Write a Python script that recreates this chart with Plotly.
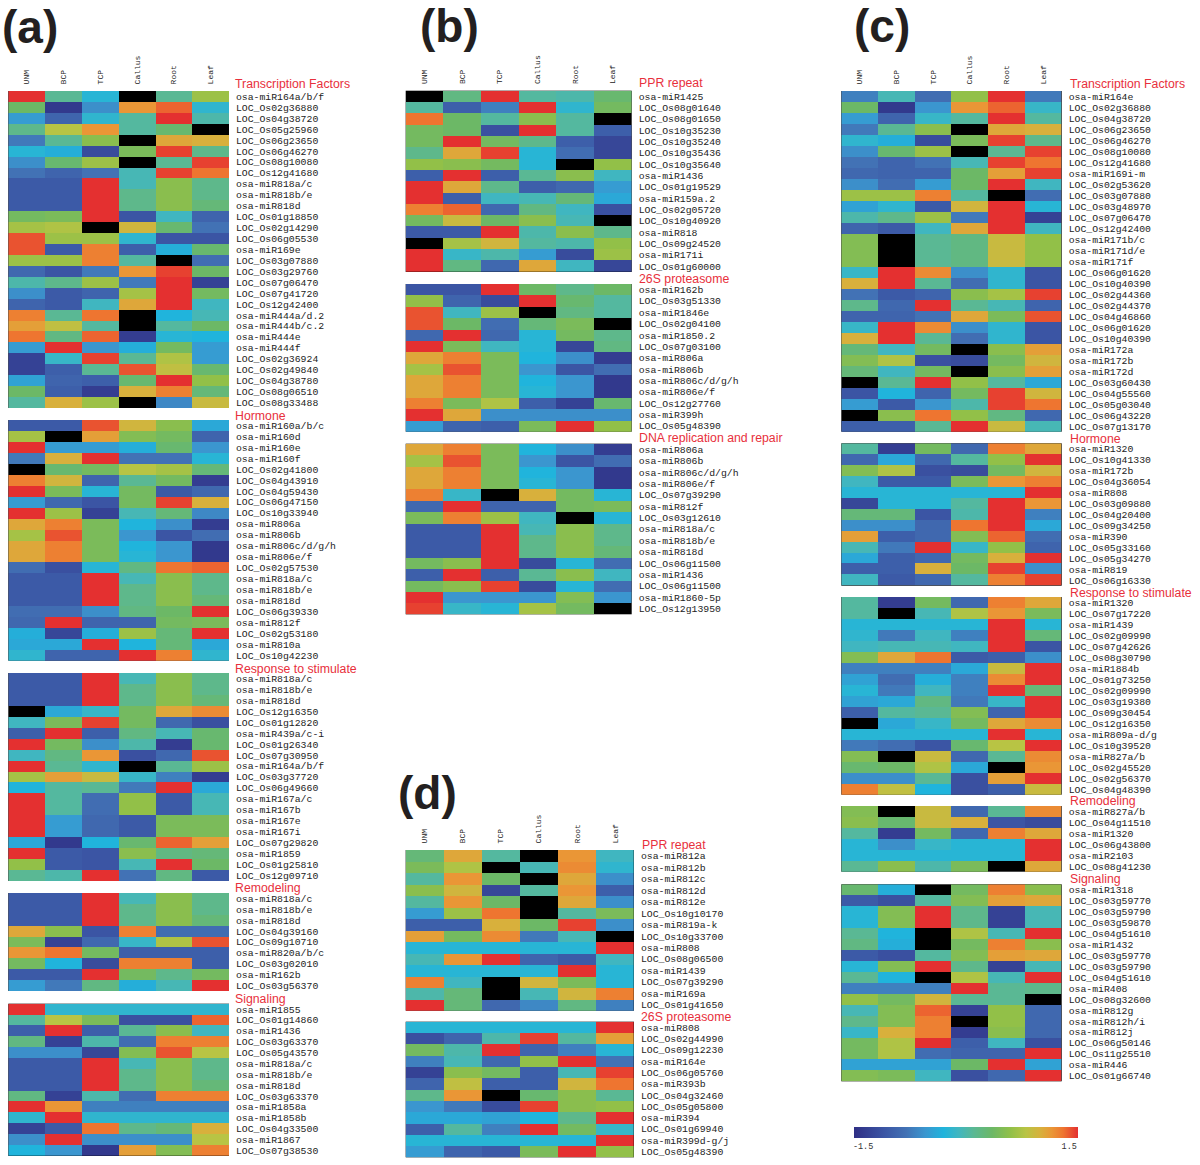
import plotly.graph_objects as go

SAMPLES = ["UNM", "BCP", "TCP", "Callus", "Root", "Leaf"]
MISSING = None

# Repeated probes in several functional groups
R818AC = [-1.05, -1.05, 1.5, -0.05, 0.55, 0.15]
R818BE = [-1.05, -1.05, 1.5, 0.15, 0.55, 0.15]
R818D = [-1.05, -1.05, 1.5, 0.15, 0.55, 0.25]
R806A = [1.05, 1.25, 0.45, -0.3, -0.6, -1.35]
R806B = [0.7, 1.4, 0.45, -0.55, -1.1, -0.85]
R806C = [1.05, 1.25, 0.45, -0.3, -0.55, -1.4]
R806E = [1.05, 1.25, 0.45, -0.25, -0.55, -1.4]
R1436 = [-1.0, 1.5, -1.0, 0.1, 0.55, -0.1]
R808 = [-0.25, -0.25, -0.25, -0.25, -0.25, 1.5]
R1320 = [0.05, -1.35, 0.4, -0.9, 1.25, 1.05]

a_tf_labels = ["osa-miR164a/b/f", "LOC_Os02g36880", "LOC_Os04g38720", "LOC_Os05g25960", "LOC_Os06g23650", "LOC_Os06g46270", "LOC_Os08g10080", "LOC_Os12g41680", "osa-miR818a/c", "osa-miR818b/e", "osa-miR818d", "LOC_Os01g18850", "LOC_Os02g14290", "LOC_Os06g05530", "osa-miR169e", "LOC_Os03g07880", "LOC_Os03g29760", "LOC_Os07g06470", "LOC_Os07g41720", "LOC_Os12g42400", "osa-miR444a/d.2", "osa-miR444b/c.2", "osa-miR444e", "osa-miR444f", "LOC_Os02g36924", "LOC_Os02g49840", "LOC_Os04g38780", "LOC_Os08g06510", "LOC_Os08g33488"]
a_tf_values = [
    [1.5, 0.1, -0.25, MISSING, 0.1, 0.65], [0.35, -1.4, -0.6, 1.15, 1.35, -0.2], [-0.5, -0.95, -0.2, 0.05, 1.5, 0.0],
    [0.15, 0.8, 1.15, 0.05, 0.3, MISSING], [-0.75, 0.1, 0.55, MISSING, 1.05, 1.0], [-0.25, -0.35, -1.2, 0.45, 1.45, 0.15],
    [-0.6, 0.3, 0.65, MISSING, 0.1, 1.45], [-0.8, -0.95, -0.8, -0.05, 1.45, 1.3], R818AC, R818BE, R818D,
    [0.4, 0.45, 1.5, -1.1, -0.1, -0.95], [0.7, 0.75, MISSING, 0.95, 0.3, -0.8], [1.4, 0.65, 0.65, -0.2, -1.1, -1.1],
    [1.4, -1.05, 1.25, -1.0, -0.35, 0.3], [0.65, 0.65, 1.25, 0.05, MISSING, -0.85], [-0.9, -1.1, -0.75, 1.15, 1.45, 0.35],
    [0.0, 0.15, 0.65, -0.75, 1.5, -1.3], [-0.6, -1.05, -0.95, 0.7, 1.5, 0.4], [-0.95, -1.05, -0.1, 1.05, 1.5, -0.1],
    [1.25, 0.1, 1.3, MISSING, -0.3, -0.05], [1.1, 0.85, 0.05, MISSING, 0.05, 0.35], [1.3, 0.2, 1.35, -1.35, -0.25, -0.3],
    [-0.5, 1.5, -0.55, -0.35, 0.4, -0.5], [-1.3, -0.15, 1.45, 0.1, 0.75, -0.5], [-1.3, -1.0, 0.1, 1.4, 0.85, 0.3],
    [-0.45, -0.95, -1.0, 0.3, 1.5, 0.6], [0.35, -1.0, -1.35, 1.0, 1.25, 0.25], [0.05, 1.0, 0.65, MISSING, -0.65, 0.9],
]

a_hormone_labels = ["osa-miR160a/b/c", "osa-miR160d", "osa-miR160e", "osa-miR160f", "LOC_Os02g41800", "LOC_Os04g43910", "LOC_Os04g59430", "LOC_Os06g47150", "LOC_Os10g33940", "osa-miR806a", "osa-miR806b", "osa-miR806c/d/g/h", "osa-miR806e/f", "LOC_Os02g57530", "osa-miR818a/c", "osa-miR818b/e", "osa-miR818d", "LOC_Os06g39330", "osa-miR812f", "LOC_Os02g53180", "osa-miR810a", "LOC_Os10g42230"]
a_hormone_values = [
    [-1.05, -1.05, 1.4, 0.95, 0.55, -0.4], [0.7, MISSING, 1.1, 0.5, 0.4, -0.95], [1.5, -0.5, -0.5, -0.35, 0.3, -0.55],
    [-0.75, 1.0, 1.5, -0.8, -0.8, -0.25], [MISSING, 0.3, 0.4, 0.8, 0.7, 0.25], [1.25, 0.95, -0.95, 0.1, 0.4, -1.35],
    [1.5, 0.45, -0.25, 0.4, -1.05, -0.9], [-0.5, -0.9, -1.1, 0.4, 1.45, 1.0], [1.5, 0.65, -1.3, -0.05, 0.25, -0.65],
    R806A, R806B, R806C, R806E, [-0.85, -1.15, -0.25, 0.2, 1.3, 1.35], R818AC, R818BE, R818D,
    [-0.85, -0.85, -0.6, 0.2, 0.35, 1.5], [-0.9, 1.5, -0.95, -0.95, 0.4, 0.45], [-0.35, -1.25, -0.35, 0.65, 0.25, 1.5],
    [-0.4, -0.4, 1.5, -0.3, 0.25, -0.4], [-0.2, -0.95, -0.95, 1.5, 1.25, -0.2],
]

a_stimulus_labels = ["osa-miR818a/c", "osa-miR818b/e", "osa-miR818d", "LOC_Os12g16350", "LOC_Os01g12820", "osa-miR439a/c-i", "LOC_Os01g26340", "LOC_Os07g30950", "osa-miR164a/b/f", "LOC_Os03g37720", "LOC_Os06g49660", "osa-miR167a/c", "osa-miR167b", "osa-miR167e", "osa-miR167i", "LOC_Os07g29820", "osa-miR1859", "LOC_Os01g25810", "LOC_Os12g09710"]
a_stimulus_values = [
    R818AC, R818BE, R818D, [MISSING, -0.4, -0.15, 0.4, 1.05, 1.2], [-0.1, 0.45, 1.45, 0.4, -0.9, -1.15],
    [-1.0, 1.5, -1.0, 0.2, -0.05, 0.3], [1.5, 0.4, -0.6, 0.0, -1.35, 0.3], [-0.1, 0.2, 1.15, -1.15, -0.9, 1.4],
    [1.5, 0.1, -0.2, MISSING, 0.1, 0.65], [0.7, 1.1, 0.9, -0.15, -0.7, -1.35], [-0.3, 0.05, 0.1, -0.75, 1.5, -0.4],
    [1.5, 0.05, -0.85, 0.6, -1.05, -0.05], [1.5, 0.05, -0.85, 0.6, -1.05, -0.05], [1.5, -0.5, -0.9, -1.05, 0.45, 0.45],
    [1.5, -0.5, -0.9, -1.05, 0.45, 0.45], [-0.4, -1.4, -0.3, 0.3, 1.35, 1.1], [1.5, -1.05, -1.1, 0.55, 0.2, 0.25],
    [0.6, -1.05, -1.1, -0.05, 1.5, 0.35], [0.1, 0.0, 1.5, -0.8, 0.2, -1.05],
]

a_remodeling_labels = ["osa-miR818a/c", "osa-miR818b/e", "osa-miR818d", "LOC_Os04g39160", "LOC_Os09g10710", "osa-miR820a/b/c", "LOC_Os03g02010", "osa-miR162b", "LOC_Os03g56370"]
a_remodeling_values = [
    R818AC, R818BE, R818D, [1.05, 0.55, -1.1, 1.25, -0.85, -0.85], [0.45, -1.3, -0.9, -0.15, 0.75, 1.4],
    [1.15, 1.3, 0.4, -1.0, -1.0, -1.0], [0.4, -0.3, -1.2, 1.25, 1.25, -1.0], [-1.05, -1.05, 1.5, 0.4, 0.15, 0.4],
    [-0.5, -0.75, 0.2, -0.35, -0.05, 1.5],
]

a_signaling_labels = ["osa-miR1855", "LOC_Os01g14860", "osa-miR1436", "LOC_Os03g63370", "LOC_Os05g43570", "osa-miR818a/c", "osa-miR818b/e", "osa-miR818d", "LOC_Os03g63370", "osa-miR1858a", "osa-miR1858b", "LOC_Os04g33500", "osa-miR1867", "LOC_Os07g38530"]
a_signaling_values = [
    [1.5, -0.2, -0.2, -0.2, -0.2, -0.2], [0.05, 0.8, 0.45, -1.15, -1.15, 1.35], R1436, [0.2, -1.3, 0.0, -0.85, 1.25, 1.25],
    [-0.6, -0.6, -1.25, 0.5, 1.4, 0.8], R818AC, R818BE, R818D, [0.2, -1.3, 0.0, -0.85, 1.25, 1.25],
    [1.5, 1.15, -0.7, -0.7, -0.7, -0.7], [-0.2, 1.5, -0.2, -0.2, -0.2, -0.2], [-1.3, -1.05, 1.3, 0.15, 0.25, 1.0],
    [-0.6, 1.5, -0.6, -0.6, -0.6, 0.8], [-0.3, -0.55, -1.4, 1.1, 0.5, 1.25],
]

b_ppr_labels = ["osa-miR1425", "LOC_Os08g01640", "LOC_Os08g01650", "LOC_Os10g35230", "LOC_Os10g35240", "LOC_Os10g35436", "LOC_Os10g35640", "osa-miR1436", "LOC_Os01g19529", "osa-miR159a.2", "LOC_Os02g05720", "LOC_Os10g40920", "osa-miR818", "LOC_Os09g24520", "osa-miR171i", "LOC_Os01g60000"]
b_ppr_values = [
    [MISSING, 0.2, 1.5, 0.05, 0.0, 0.3], [0.05, -1.0, -0.7, 1.5, -0.2, 0.4], [1.3, 0.35, 0.05, 0.55, 0.05, MISSING],
    [0.4, 0.35, -1.15, 1.5, 0.05, -1.0], [0.4, 1.5, 0.4, 0.15, -1.0, -1.25], [0.15, 1.05, 1.45, -0.25, -0.85, -1.25],
    [0.6, 0.55, 0.4, -0.25, MISSING, 0.6], R1436, [1.5, 1.05, 0.15, -1.0, -0.9, -0.5], [1.5, -1.0, -0.1, -0.05, 0.25, -0.4],
    [1.25, 1.35, -0.9, 0.2, -0.1, -1.15], [0.4, 0.9, 0.35, 0.55, -0.05, MISSING], [-1.05, -1.05, 1.5, 0.0, 0.55, 0.15],
    [MISSING, 0.7, 0.95, 0.05, 0.0, 0.6], [1.5, -0.15, 0.0, -0.5, -1.2, 0.65], [1.5, 0.2, -0.9, 1.05, -0.1, -1.25],
]

b_proteasome_labels = ["osa-miR162b", "LOC_Os03g51330", "osa-miR1846e", "LOC_Os02g04100", "osa-miR1850.2", "LOC_Os07g03100", "osa-miR806a", "osa-miR806b", "osa-miR806c/d/g/h", "osa-miR806e/f", "LOC_Os12g27760", "osa-miR399h", "LOC_Os05g48390"]
b_proteasome_values = [
    [-1.1, -1.1, 1.5, 0.35, 0.15, 0.35], [0.6, -0.95, -1.2, 1.5, 0.3, 0.05], [1.4, -0.1, 0.65, MISSING, 0.2, 0.05],
    [1.4, 0.35, -0.85, 0.25, 0.45, MISSING], [-0.9, 1.5, -0.9, -0.25, 0.4, 0.15], [1.5, 0.45, -0.1, -0.25, -1.25, 0.2],
    R806A, R806B, R806C, R806E, [1.25, 0.45, 0.75, -1.0, -1.3, 0.3], [1.5, 1.05, -0.6, -0.6, -0.6, -0.6],
    [-0.5, -0.95, -1.0, 0.45, 1.5, 0.6],
]

b_dna_labels = ["osa-miR806a", "osa-miR806b", "osa-miR806c/d/g/h", "osa-miR806e/f", "LOC_Os07g39290", "osa-miR812f", "LOC_Os03g12610", "osa-miR818a/c", "osa-miR818b/e", "osa-miR818d", "LOC_Os06g11500", "osa-miR1436", "LOC_Os06g11500", "osa-miR1860-5p", "LOC_Os12g13950"]
b_dna_values = [
    R806A, R806B, R806C, R806E, [1.25, -0.15, MISSING, 1.0, 0.4, -0.25], [-0.9, 1.5, -0.95, -0.95, 0.4, 0.45],
    [0.45, 1.25, 0.65, -0.1, MISSING, -0.25], R818AC, R818BE, R818D, [0.4, 0.55, 1.5, -1.2, -0.25, -0.85], R1436,
    [0.4, 0.55, 1.45, -1.2, -0.25, -0.85], [1.5, -0.55, -0.55, -0.55, 0.5, -0.55], [1.45, -0.15, -0.25, 0.7, 0.4, MISSING],
]

d_ppr_labels = ["osa-miR812a", "osa-miR812b", "osa-miR812c", "osa-miR812d", "osa-miR812e", "LOC_Os10g10170", "osa-miR819a-k", "LOC_Os10g33700", "osa-miR808", "LOC_Os08g06500", "osa-miR1439", "LOC_Os07g39290", "osa-miR169a", "LOC_Os01g41650"]
d_ppr_values = [
    [0.25, 1.05, 0.05, MISSING, 1.15, -0.1], [0.45, 0.75, MISSING, -0.05, 1.2, -0.2], [0.05, 1.15, 0.35, MISSING, 1.05, -0.6],
    [0.55, 0.95, -1.25, 0.05, 1.15, -1.0], [0.05, 1.15, 0.35, MISSING, 1.05, -0.6], [-0.5, 0.65, 1.3, MISSING, 0.05, 0.45],
    [-1.0, -1.0, 1.0, 0.35, 1.45, -0.6], [1.1, 0.4, 1.2, -0.75, -0.05, MISSING], R808, [-0.05, 1.15, 1.5, -0.95, -1.05, -0.1],
    [-0.25, -0.25, -0.25, -0.25, 1.5, -0.25], [1.25, -0.1, MISSING, 0.95, 0.45, -0.25], [0.0, 0.25, MISSING, -0.05, 0.95, 1.25],
    [1.5, 0.25, -0.9, -0.65, 0.2, -0.7],
]

d_proteasome_labels = ["osa-miR808", "LOC_Os02g44990", "LOC_Os09g12230", "osa-miR164e", "LOC_Os06g05760", "osa-miR393b", "LOC_Os04g32460", "LOC_Os05g05800", "osa-miR394", "LOC_Os01g69940", "osa-miR399d-g/j", "LOC_Os05g48390"]
d_proteasome_values = [
    R808, [-1.15, -0.95, 0.0, 1.45, 0.05, 1.1], [0.4, 0.0, 1.5, -0.95, -0.7, -0.25], [-0.7, -0.05, -0.9, 0.6, 1.5, -0.8],
    [-1.3, 0.55, 0.4, -1.0, -0.05, 1.45], [-0.95, 0.85, -1.0, -1.0, 0.95, 1.3], [0.15, 1.15, MISSING, 0.3, 0.55, 0.1],
    [-0.55, -0.75, -1.2, 1.45, 0.55, 0.6], [-0.4, -0.4, -0.45, -0.3, 0.15, 1.5], [-1.0, 0.05, -0.7, 1.5, 0.4, -0.15],
    R808, [-0.5, -0.95, -1.05, 0.45, 1.5, 0.6],
]

c_tf_labels = ["osa-miR164e", "LOC_Os02g36880", "LOC_Os04g38720", "LOC_Os06g23650", "LOC_Os06g46270", "LOC_Os08g10080", "LOC_Os12g41680", "osa-miR169i-m", "LOC_Os02g53620", "LOC_Os03g07880", "LOC_Os03g48970", "LOC_Os07g06470", "LOC_Os12g42400", "osa-miR171b/c", "osa-miR171d/e", "osa-miR171f", "LOC_Os06g01620", "LOC_Os10g40390", "LOC_Os02g44360", "LOC_Os02g44370", "LOC_Os04g46860", "LOC_Os06g01620", "LOC_Os10g40390", "osa-miR172a", "osa-miR172b", "osa-miR172d", "LOC_Os03g60430", "LOC_Os04g55560", "LOC_Os05g03040", "LOC_Os06g43220", "LOC_Os07g13170"]
c_tf_values = [
    [-0.7, -0.05, -0.85, 0.6, 1.5, -0.75], [0.35, -1.4, -0.55, 1.15, 1.35, -0.15], [-0.5, -0.95, -0.15, 0.05, 1.5, 0.05],
    [-0.75, 0.1, 0.55, MISSING, 1.05, 1.0], [-0.2, -0.35, -1.2, 0.45, 1.45, 0.15], [-0.6, 0.3, 0.65, MISSING, 0.1, 1.45],
    [-0.8, -0.95, -0.8, -0.05, 1.45, 1.3], [-0.9, -0.95, -0.95, 0.35, 1.1, 1.45], [-0.6, -0.85, -0.5, 0.35, 1.5, -0.1],
    [0.65, 0.65, 1.25, 0.05, MISSING, -0.85], [-0.45, -0.2, -1.05, 0.95, 1.5, -0.25], [0.0, 0.15, 0.65, -0.75, 1.5, -1.3],
    [-0.95, -1.05, -0.1, 1.05, 1.5, -0.1], [0.5, MISSING, 0.1, 0.2, 0.9, 0.6], [0.5, MISSING, 0.1, 0.2, 0.9, 0.6],
    [0.5, MISSING, 0.1, 0.2, 0.9, 0.6], [-0.15, 1.5, 1.2, -0.6, -0.2, -1.1], [1.0, 1.5, 0.1, -0.85, -0.2, -1.1],
    [-0.8, -1.05, -0.95, 0.55, 0.7, 1.45], [0.15, -0.9, 1.5, 0.1, -0.05, -0.95], [-0.95, -0.95, -0.8, 1.05, 0.45, 1.4],
    [-0.15, 1.5, 1.2, -0.6, -0.2, -1.1], [1.0, 1.5, 0.1, -0.85, -0.2, -1.1], [0.25, -0.1, 0.4, MISSING, 0.55, 1.1],
    [0.5, 0.75, -1.15, -1.2, 0.4, 0.95], [0.25, -0.1, 0.4, MISSING, 0.55, 1.1], [MISSING, 0.1, 1.5, 0.6, 0.05, -0.4],
    [-1.1, -0.3, -0.95, 0.4, 1.45, 0.95], [-0.5, -1.05, -0.55, 0.0, 1.45, 1.3], [MISSING, 0.55, 1.3, 0.6, 0.2, -0.9],
    [-1.0, -1.0, 0.1, 1.5, 0.9, -0.05],
]

c_hormone_labels = ["osa-miR1320", "LOC_Os10g41330", "osa-miR172b", "LOC_Os04g36054", "osa-miR808", "LOC_Os03g09880", "LOC_Os04g20400", "LOC_Os09g34250", "osa-miR390", "LOC_Os05g33160", "LOC_Os05g34270", "osa-miR819", "LOC_Os06g16330"]
c_hormone_values = [
    R1320, [-0.9, -0.4, -0.9, 0.05, 0.6, 1.5], [0.5, 0.75, -1.15, -1.2, 0.4, 0.95], [-0.1, -1.05, -1.05, 0.45, 1.15, 1.25],
    R808, [-1.25, -0.25, -0.25, 0.05, 1.5, 1.15], [0.25, 0.25, -1.1, 0.0, 1.5, -0.7], [-0.6, -0.6, -0.9, 1.3, 1.5, -0.4],
    [1.1, -1.0, -0.9, 0.5, 1.35, -0.85], [-0.05, -0.75, 1.5, -0.15, 0.6, -0.95], [-0.4, -1.0, -0.9, 0.4, 1.0, 1.5],
    [-1.0, -1.0, 1.0, 0.35, 1.45, -0.6], [-0.1, -1.05, -0.9, 0.05, 1.25, 1.45],
]

c_stimulus_labels = ["osa-miR1320", "LOC_Os07g17220", "osa-miR1439", "LOC_Os02g09990", "LOC_Os07g42626", "LOC_Os08g30790", "osa-miR1884b", "LOC_Os01g73250", "LOC_Os02g09990", "LOC_Os03g19380", "LOC_Os09g30454", "LOC_Os12g16350", "osa-miR809a-d/g", "LOC_Os10g39520", "osa-miR827a/b", "LOC_Os02g45520", "LOC_Os02g56370", "LOC_Os04g48390"]
c_stimulus_values = [
    R1320, [0.05, MISSING, -0.05, 0.75, 1.15, 0.45], [-0.25, -0.25, -0.25, -0.25, 1.5, -0.25], [-0.2, -0.75, -0.1, -0.7, 1.5, 0.25],
    [-0.1, -0.05, -0.05, -0.1, 1.5, -1.1], [0.5, 1.05, 1.3, -1.05, -1.0, -0.6], [-0.7, -0.7, -0.7, -0.4, 0.9, 1.5],
    [-0.45, -0.85, -0.35, -0.7, 1.2, 1.5], [-0.25, -0.75, -0.1, -0.7, 1.5, 0.25], [-0.45, -0.4, 0.2, -0.75, -0.15, 1.5],
    [-1.0, 0.05, 0.1, 0.5, -0.95, 1.5], [MISSING, -0.4, -0.15, 0.4, 1.05, 1.2], [-0.25, -0.25, -0.25, -0.25, 1.5, -0.25],
    [-0.75, -0.85, -1.1, 0.3, 0.8, 1.5], [0.5, MISSING, 0.9, -0.9, 0.1, 1.2], [0.3, 0.35, 0.75, -0.4, MISSING, 1.15],
    [-0.6, -0.6, 0.1, -1.15, 1.1, 1.5], [1.25, 0.85, -0.3, -1.15, -1.0, 0.9],
]

c_remodeling_labels = ["osa-miR827a/b", "LOC_Os04g11510", "osa-miR1320", "LOC_Os06g43800", "osa-miR2103", "LOC_Os08g41230"]
c_remodeling_values = [
    [0.5, MISSING, 0.9, -0.9, 0.1, 1.2], [0.55, 0.3, 0.9, 1.0, -1.1, -1.2], R1320, [-0.25, -0.6, -0.15, -0.25, -0.25, 1.5],
    R808, [0.1, 0.55, 0.0, 0.45, MISSING, 1.05],
]

c_signaling_labels = ["osa-miR1318", "LOC_Os03g59770", "LOC_Os03g59790", "LOC_Os03g59870", "LOC_Os04g51610", "osa-miR1432", "LOC_Os03g59770", "LOC_Os03g59790", "LOC_Os04g51610", "osa-miR408", "LOC_Os08g32600", "osa-miR812g", "osa-miR812h/i", "osa-miR812j", "LOC_Os06g50146", "LOC_Os11g25510", "osa-miR446", "LOC_Os01g66740"]
c_signaling_values = [
    [0.3, -0.35, MISSING, 0.4, 1.25, 0.55], [-1.05, -1.15, 0.05, 0.5, 1.1, 1.05], [-0.25, 0.5, 1.5, 0.15, -1.3, -0.05],
    [-0.25, 0.5, 1.5, 0.15, -1.3, -0.05], [0.1, -0.3, MISSING, 0.75, -0.05, 1.5], [0.2, -0.35, MISSING, 0.4, 1.25, 0.55],
    [-1.05, -1.15, 0.05, 0.5, 1.1, 1.05], [-0.25, 0.5, 1.5, 0.15, -1.3, -0.05], [0.1, -0.3, MISSING, 0.75, -0.05, 1.5],
    [-0.7, -0.7, -0.7, 1.5, 0.1, 0.15], [0.6, 0.4, 0.95, 0.1, 0.1, MISSING], [-0.05, 0.5, 1.35, -1.3, 0.6, -0.9],
    [0.15, 0.5, 1.25, MISSING, 0.6, -0.9], [-0.15, 1.0, 1.25, -1.35, 0.55, -0.9], [0.4, 0.75, 1.5, -1.0, -0.1, -1.15],
    [0.4, 0.75, -0.85, -0.95, -0.95, 1.5], [-0.45, -0.45, -0.45, 0.35, 1.5, -0.45], [0.5, 0.45, -0.1, -1.15, -0.9, 1.5],
]

W, H = 1200, 1165
MONO = "Liberation Mono"
SANS = "Liberation Sans"
RED = "#e8303c"

stops = [(-1.5, "#2f2f85"), (-1.1, "#3b55a4"), (-0.8, "#4272b5"), (-0.55, "#3b96cf"), (-0.3, "#20b4dc"),
         (-0.1, "#40b6c0"), (0.1, "#5ab894"), (0.35, "#6cb866"), (0.6, "#92c048"), (0.8, "#b8c444"),
         (1.0, "#d8b03c"), (1.15, "#ea9636"), (1.3, "#ee7530"), (1.5, "#e43030")]
colorscale = [[(v + 1.5) / 3, c] for v, c in stops]

fig = go.Figure()
layout = {}
annotations = []


def text_at(px, py, text, size, color, bold=False, family=SANS):
    annotations.append(dict(
        x=px / W, y=1 - py / H, xref="paper", yref="paper", xanchor="left", yanchor="middle",
        text=f"<b>{text}</b>" if bold else text, showarrow=False, font=dict(family=family, size=size, color=color),
    ))


def add_panel(idx, labels, values, x0, x1, y0, y1, title, title_x, title_y, header=False):
    xa, ya = f"x{idx}", f"y{idx}"
    fig.add_trace(go.Heatmap(
        z=values, x=list(range(len(SAMPLES))), y=list(range(len(labels))),
        coloraxis="coloraxis", xaxis=xa, yaxis=ya, hoverongaps=False,
    ))
    layout[f"xaxis{idx}"] = dict(
        domain=[x0 / W, x1 / W], anchor=ya, range=[-0.5, 5.5], side="top", showgrid=False, zeroline=False,
        tickmode="array", tickvals=list(range(len(SAMPLES))), ticktext=SAMPLES, tickangle=-90,
        showticklabels=header, ticks="outside" if header else "", ticklen=4, tickcolor="white",
        tickfont=dict(family=MONO, size=8, color="#222222"),
    )
    layout[f"yaxis{idx}"] = dict(
        domain=[1 - y1 / H, 1 - y0 / H], anchor=xa, range=[len(labels) - 0.5, -0.5], side="right", showgrid=False,
        zeroline=False, tickmode="array", tickvals=list(range(len(labels))), ticktext=labels,
        ticks="outside", ticklen=4, tickcolor="white", tickfont=dict(family=MONO, size=9.8, color="#222222"),
    )
    text_at(title_x, title_y, title, 12.3, RED)


panels = [
    (a_tf_labels, a_tf_values, 8.3, 229, 91, 408, "Transcription Factors", 233, 83.5, True),
    (a_hormone_labels, a_hormone_values, 8.3, 229, 420, 660.7, "Hormone", 233, 415.5, False),
    (a_stimulus_labels, a_stimulus_values, 8.3, 229, 673, 881, "Response to stimulate", 233, 669, False),
    (a_remodeling_labels, a_remodeling_values, 8.3, 229, 893, 991, "Remodeling", 233, 888, False),
    (a_signaling_labels, a_signaling_values, 8.3, 229, 1003.7, 1156, "Signaling", 233, 998.5, False),
    (b_ppr_labels, b_ppr_values, 405.7, 631.7, 90.7, 272, "PPR repeat", 637, 83, True),
    (b_proteasome_labels, b_proteasome_values, 405.7, 631.7, 284, 431.7, "26S proteasome", 637, 279, False),
    (b_dna_labels, b_dna_values, 405.7, 631.7, 443.7, 614.3, "DNA replication and repair", 637, 438, False),
    (d_ppr_labels, d_ppr_values, 405.7, 634, 850, 1010.7, "PPR repeat", 639.5, 845, True),
    (d_proteasome_labels, d_proteasome_values, 405.7, 634, 1021.7, 1157.3, "26S proteasome", 639, 1016.7, False),
    (c_tf_labels, c_tf_values, 841.3, 1061.7, 91, 431.7, "Transcription Factors", 1067.5, 83.5, True),
    (c_hormone_labels, c_hormone_values, 841.3, 1061.7, 443.3, 585.7, "Hormone", 1067.5, 438.5, False),
    (c_stimulus_labels, c_stimulus_values, 841.3, 1061.7, 597, 794.7, "Response to stimulate", 1067.5, 592.7, False),
    (c_remodeling_labels, c_remodeling_values, 841.3, 1061.7, 806, 871.7, "Remodeling", 1067.5, 801, False),
    (c_signaling_labels, c_signaling_values, 841.3, 1061.7, 884.3, 1081.3, "Signaling", 1067.5, 879, False),
]
for i, p in enumerate(panels, start=1):
    add_panel(i, *p)

for letter, px, py in [("(a)", 0, 27), ("(b)", 418, 26), ("(c)", 852, 26), ("(d)", 396, 793)]:
    text_at(px, py, letter, 46, "#231f20", bold=True)

fig.update_layout(
    width=W, height=H, margin=dict(l=0, r=0, t=0, b=0), autosize=False,
    paper_bgcolor="white", plot_bgcolor="black", showlegend=False, annotations=annotations,
    coloraxis=dict(
        colorscale=colorscale, cmin=-1.5, cmax=1.5,
        colorbar=dict(
            orientation="h", x=(854 + 1078.3) / 2 / W, xanchor="center", xref="paper",
            y=1 - 1127 / H, yanchor="top", yref="paper", thickness=11.3, thicknessmode="pixels",
            len=224.3, lenmode="pixels", outlinewidth=0, ticks="", xpad=0, ypad=0,
            tickmode="array", tickvals=[-1.38, 1.38], ticktext=["-1.5", "1.5"],
            tickfont=dict(family=MONO, size=8.5, color="#333333"),
        ),
    ),
    **layout,
)

fig.write_html("out.html", post_script="document.body.style.margin='0';", config={"displayModeBar": False})
